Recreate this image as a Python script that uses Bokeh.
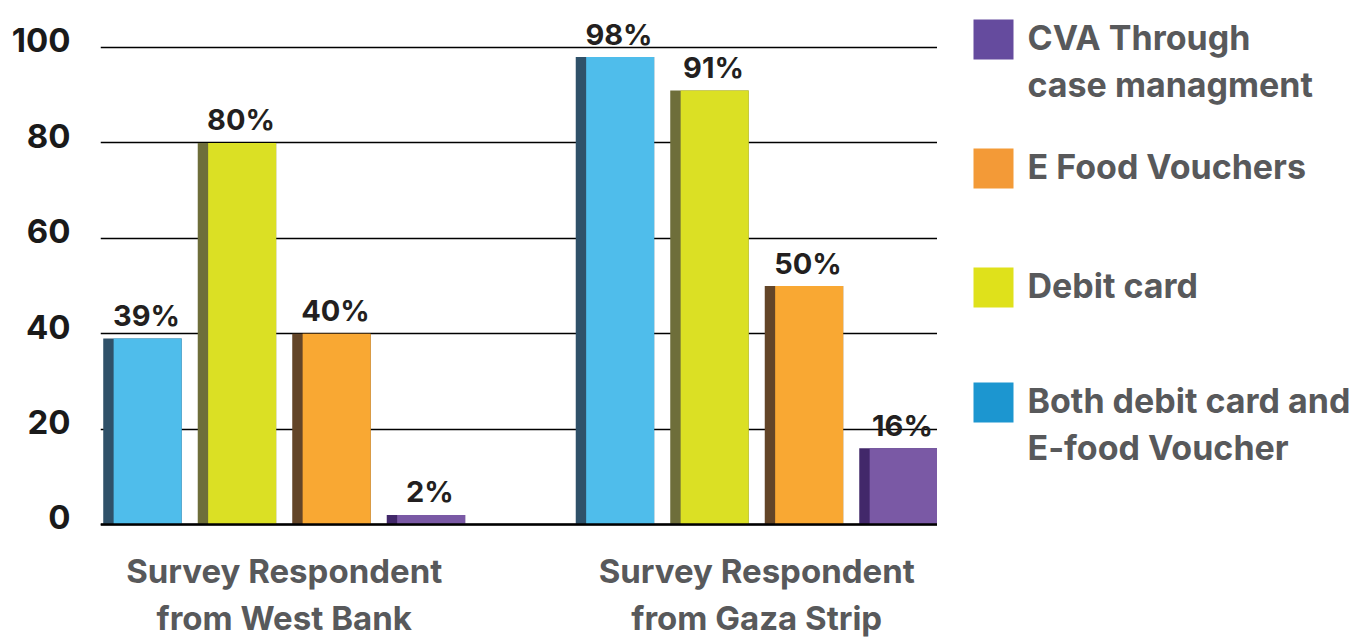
from bokeh.plotting import figure
from bokeh.models import Range1d, FixedTicker, Span
from bokeh.layouts import row
from bokeh.embed import file_html
from bokeh.resources import INLINE
from bokeh.core.properties import value

# ---------------- data ----------------
groups = ["Survey Respondent\nfrom West Bank", "Survey Respondent\nfrom Gaza Strip"]
series = ["Both debit card and\nE-food Voucher", "Debit card", "E Food Vouchers",
          "CVA Through\ncase managment"]
west_bank = [39, 80, 40, 2]
gaza_strip = [98, 91, 50, 16]
y_ticks = [0, 20, 40, 60, 80, 100]

face_colors = ["#4FBDEB", "#DBE024", "#F9A833", "#7A59A5"]
side_colors = ["#2F5169", "#6E6E3A", "#634528", "#42286A"]
legend_colors = ["#1C96D0", "#DFE11B", "#F39A37", "#654B9E"]
legend_order = [3, 2, 1, 0]          # top to bottom in the legend

FONT = "Inter"
values_by_group = [west_bank, gaza_strip]
slot = len(series) + 1               # one empty slot between the groups

# ---------------- layout constants ----------------
TOP, H = 10, 641
ppu = 4.77                           # pixels per percentage point
Y1 = 100 + (47 - TOP) / ppu          # gridline "100" sits at pixel row 47
Y0 = Y1 - (H - TOP) / ppu


def y_at(px):
    """data y for a pixel row of the main figure"""
    return Y1 - (px - TOP) / ppu


# ---------------- main chart ----------------
p = figure(width=937, height=H,
           x_range=Range1d(-0.444, 8.413), y_range=Range1d(Y0, Y1),
           output_backend="svg", toolbar_location=None,
           min_border_left=100, min_border_right=0,
           min_border_top=TOP, min_border_bottom=0)
p.outline_line_color = None
p.background_fill_color = "white"
p.border_fill_color = "white"

p.xgrid.visible = False
p.ygrid.ticker = FixedTicker(ticks=y_ticks)
p.ygrid.grid_line_color = "black"
p.ygrid.grid_line_width = 1.3

bar_w = 0.83
side_w = 0.11

for gi, vals in enumerate(values_by_group):
    xs = [gi * slot + si for si in range(len(series))]
    p.vbar(x=xs, top=vals, bottom=0, width=bar_w,
           fill_color=side_colors, line_color=None)
    p.vbar(x=[x + side_w / 2 for x in xs], top=vals, bottom=0, width=bar_w - side_w,
           fill_color=face_colors, line_color=None)
    p.text(x=xs, y=vals, text=[f"{v}%" for v in vals],
           x_offset=4, y_offset=-23,
           text_align="center", text_baseline="alphabetic",
           text_font=value(FONT), text_font_style="bold",
           text_font_size="29px", text_color="#231F20")

p.add_layout(Span(location=0, dimension="width", line_color="black", line_width=2.5))

# y labels sit a little above their gridlines in the reference
lab_shift = 1.5
p.yaxis.ticker = FixedTicker(ticks=[t + lab_shift for t in y_ticks])
p.yaxis.major_label_overrides = {t + lab_shift: str(t) for t in y_ticks}
p.yaxis.axis_line_color = None
p.yaxis.major_tick_line_color = None
p.yaxis.minor_tick_line_color = None
p.yaxis.major_tick_out = 0
p.yaxis.major_tick_in = 0
p.yaxis.major_label_standoff = 30
p.yaxis.major_label_text_font = FONT
p.yaxis.major_label_text_font_style = "bold"
p.yaxis.major_label_text_font_size = "33px"
p.yaxis.major_label_text_color = "#1A1A1A"
p.xaxis.visible = False

# group labels under the bars
centers = [gi * slot + (len(series) - 1) / 2 for gi in range(len(groups))]
gx, gy, gt = [], [], []
for c, g in zip(centers, groups):
    for i, line in enumerate(g.split("\n")):
        gx.append(c)
        gy.append(y_at(570 + i * 47))
        gt.append(line)
p.text(x=gx, y=gy, text=gt, text_align="center", text_baseline="alphabetic",
       text_font=value(FONT), text_font_style="bold",
       text_font_size="33px", text_color="#58595B")

# ---------------- legend panel ----------------
lg = figure(width=422, height=H, x_range=Range1d(0, 422),
            y_range=Range1d(H, TOP),
            output_backend="svg", toolbar_location=None,
            min_border_left=0, min_border_right=0,
            min_border_top=TOP, min_border_bottom=0)
lg.axis.visible = False
lg.grid.visible = False
lg.outline_line_color = None

item_y = [39, 168, 287, 402]
line_pitch = 47
for k, si in enumerate(legend_order):
    lg.rect(x=[56], y=[item_y[k]], width=40, height=40,
            fill_color=legend_colors[si], line_color=None)
    lines = series[si].split("\n")
    lg.text(x=[90] * len(lines), y=[item_y[k] - 2 + i * line_pitch for i in range(len(lines))],
            text=lines, text_align="left", text_baseline="alphabetic",
            text_font=value(FONT), text_font_style="bold",
            text_font_size="34px", text_color="#58595B")

layout = row(p, lg)
open("out.html", "w").write(file_html(layout, INLINE))
